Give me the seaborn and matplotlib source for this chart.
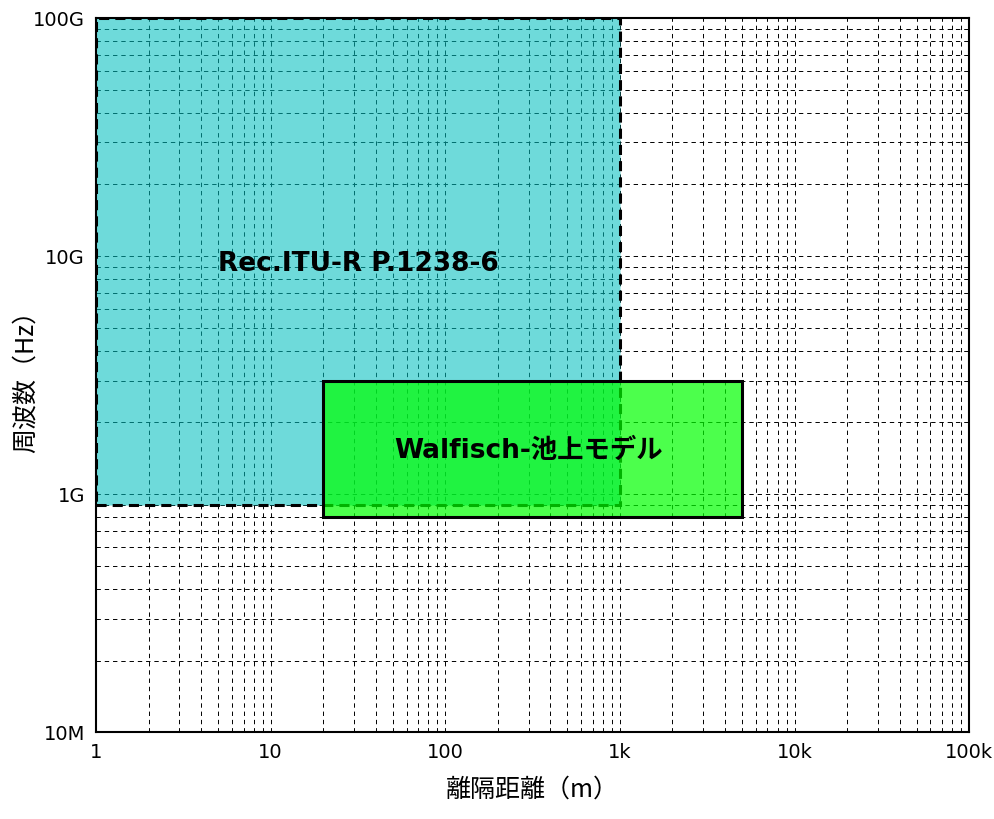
import matplotlib
matplotlib.use("Agg")
import matplotlib.pyplot as plt
from matplotlib.patches import Rectangle
import seaborn as sns

# Model applicability regions (distance in m, frequency in Hz)
region_names = ["Rec.ITU-R P.1238-6", "Walfisch-池上モデル"]
dist_min = [1, 20]
dist_max = [1000, 5000]
freq_min = [0.9e9, 0.8e9]
freq_max = [1e11, 3e9]

# where the region names sit
label_x = [32, 300]
label_y = [9.3e9, 1.52e9]

x_ticks = [1, 10, 100, 1e3, 1e4, 1e5]
x_tick_labels = ["1", "10", "100", "1k", "10k", "100k"]
y_ticks = [1e8, 1e9, 1e10, 1e11]
y_tick_labels = ["10M", "1G", "10G", "100G"]

sns.set_style("white")
plt.rcParams['font.family'] = ['DejaVu Sans', 'Noto Sans CJK JP']
plt.rcParams['text.color'] = 'black'
plt.rcParams['axes.labelcolor'] = 'black'
plt.rcParams['xtick.color'] = 'black'
plt.rcParams['ytick.color'] = 'black'

fig, ax = plt.subplots(figsize=(9.95, 8.19), dpi=100)
fig.subplots_adjust(left=0.0965, right=0.974, top=0.978, bottom=0.106)

ax.set_xscale("log")
ax.set_yscale("log")
ax.set_xlim(1, 1e5)
ax.set_ylim(1e8, 1e11)

# dashed grid on major and minor ticks, drawn under the regions
ax.set_axisbelow(True)
ax.grid(True, which="both", color="black", linestyle=(0, (4.5, 4)), linewidth=0.7)

# ITU region: cyan, dashed border
ax.add_patch(Rectangle((dist_min[0], freq_min[0]), dist_max[0] - dist_min[0], freq_max[0] - freq_min[0],
                       facecolor=(0, 0.75, 0.75, 0.57), edgecolor="black",
                       linewidth=2.2, linestyle=(0, (3.3, 2.0)), zorder=1))
# Walfisch region: green, solid border
ax.add_patch(Rectangle((dist_min[1], freq_min[1]), dist_max[1] - dist_min[1], freq_max[1] - freq_min[1],
                       facecolor=(0, 1, 0, 0.7), edgecolor="black",
                       linewidth=2.2, linestyle="-", zorder=2))

for name, lx, ly in zip(region_names, label_x, label_y):
    ax.text(lx, ly, name, ha="center", va="center", fontsize=19, fontweight="bold", zorder=3)

ax.set_xticks(x_ticks)
ax.set_xticklabels(x_tick_labels)
ax.set_yticks(y_ticks)
ax.set_yticklabels(y_tick_labels)
ax.tick_params(which="both", length=0, labelsize=14, pad=8)

ax.set_xlabel("離隔距離（m）", fontsize=18, labelpad=10, family=['Noto Sans CJK JP', 'DejaVu Sans'])
ax.set_ylabel("周波数（Hz）", fontsize=18, family=['Noto Sans CJK JP', 'DejaVu Sans'])
ax.yaxis.set_label_coords(-0.066, 0.5)

for s in ax.spines.values():
    s.set_color("black")
    s.set_linewidth(1.5)
    s.set_zorder(4)

fig.savefig("out.png", dpi=100)
